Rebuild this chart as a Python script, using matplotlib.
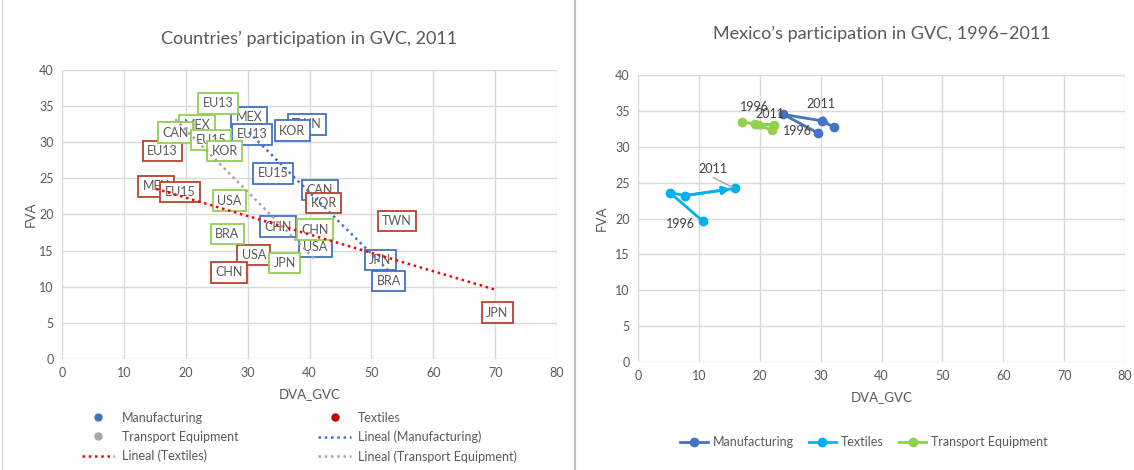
import matplotlib.pyplot as plt
from matplotlib.lines import Line2D
import numpy as np

plt.rcParams['font.family'] = ['Lato', 'DejaVu Sans']

# --- left chart: countries, 2011 ---
man_lab = ['MEX', 'EU13', 'TWN', 'KOR', 'EU15', 'CAN', 'CHN', 'USA', 'JPN', 'BRA']
man_x = [30.2, 30.7, 39.6, 37.2, 34.1, 41.7, 34.9, 40.9, 51.4, 52.8]
man_y = [33.5, 31.1, 32.5, 31.6, 25.7, 23.4, 18.3, 15.5, 13.7, 10.8]

tex_lab = ['EU13', 'MEX', 'EU15', 'KOR', 'TWN', 'USA', 'CHN', 'JPN']
tex_x = [16.2, 15.2, 19.1, 42.3, 54.1, 31.0, 27.0, 70.3]
tex_y = [28.8, 23.9, 23.1, 21.6, 19.1, 14.4, 12.0, 6.4]

tra_lab = ['EU13', 'MEX', 'CAN', 'EU15', 'KOR', 'USA', 'BRA', 'CHN', 'JPN']
tra_x = [25.2, 21.8, 18.3, 24.1, 26.3, 27.0, 26.7, 40.9, 36.0]
tra_y = [35.4, 32.4, 31.3, 30.3, 28.8, 21.9, 17.3, 17.9, 13.3]

# --- right chart: Mexico 1996-2011 ---
mx_man_x = [29.6, 23.9, 30.3, 32.2]
mx_man_y = [31.9, 34.5, 33.6, 32.7]
mx_tex_x = [10.7, 5.25, 7.8, 15.9]
mx_tex_y = [19.6, 23.6, 23.2, 24.2]
mx_tra_x = [17.1, 22.3, 19.3, 22.0]
mx_tra_y = [33.4, 33.0, 33.2, 32.3]

txt = '#595959'
grid = '#D9D9D9'

fig = plt.figure(figsize=(11.34, 4.70), dpi=100)


def style(ax, ylabpad):
    ax.set_xlim(0, 80)
    ax.set_ylim(0, 40)
    ax.set_xticks(range(0, 81, 10))
    ax.set_yticks(range(0, 41, 5))
    ax.grid(True, color=grid, lw=1)
    ax.set_axisbelow(True)
    for s in ax.spines.values():
        s.set_visible(False)
    ax.tick_params(length=0, colors=txt, labelsize=9, pad=6)
    ax.set_xlabel('DVA_GVC', color=txt, fontsize=9.5, labelpad=6)
    ax.set_ylabel('FVA', color=txt, fontsize=9.5, labelpad=ylabpad)


ax1 = fig.add_axes([0.0547, 0.2362, 0.4365, 0.6149])
style(ax1, 2)
ax1.set_title('Countries\u2019 participation in GVC, 2011', color=txt, fontsize=13, pad=19)

groups = [
    (man_lab, man_x, man_y, '#4472C4', '#4472C4', '#4472C4', 'Manufacturing'),
    (tex_lab, tex_x, tex_y, '#C00000', '#B8432F', '#FF0000', 'Textiles'),
    (tra_lab, tra_x, tra_y, '#A5A5A5', '#92D050', '#A5A5A5', 'Transport Equipment'),
]
for lab, xs, ys, mc, bc, lc, name in groups:
    ax1.scatter(xs, ys, s=25, color=mc, zorder=2)
    for l, x, y in zip(lab, xs, ys):
        ax1.text(x, y, l, ha='center', va='center', fontsize=9, color=txt, zorder=3,
                 bbox=dict(boxstyle='square,pad=0.35', fc='white', ec=bc, lw=1.3))

for lab, xs, ys, mc, bc, lc, name in groups:
    k, b = np.polyfit(xs, ys, 1)
    xx = np.array([min(xs), max(xs)])
    ax1.plot(xx, k * xx + b, ls=(0, (1, 1.5)), color=lc, lw=1.8, zorder=4)

h = [
    Line2D([], [], ls='', marker='o', color='#4472C4', ms=5),
    Line2D([], [], ls='', marker='o', color='#A5A5A5', ms=5),
    Line2D([], [], ls=(0, (1, 1.5)), color='#FF0000', lw=1.8),
    Line2D([], [], ls='', marker='o', color='#C00000', ms=5),
    Line2D([], [], ls=(0, (1, 1.5)), color='#4472C4', lw=1.8),
    Line2D([], [], ls=(0, (1, 1.5)), color='#A5A5A5', lw=1.8),
]
labs = ['Manufacturing', 'Transport Equipment', 'Lineal (Textiles)',
        'Textiles', 'Lineal (Manufacturing)', 'Lineal (Transport Equipment)']
fig.legend(h, labs, ncol=2, loc='center', bbox_to_anchor=(0.264, 0.07), frameon=False,
           fontsize=9, labelcolor=txt, columnspacing=6.4, handlelength=2.6,
           labelspacing=0.55, handletextpad=0.6)

# right chart
ax2 = fig.add_axes([0.5626, 0.2298, 0.4295, 0.6106])
style(ax2, 5)
ax2.set_title('Mexico\u2019s participation in GVC, 1996\u20132011', color=txt, fontsize=13, pad=26)

series = [
    (mx_man_x, mx_man_y, '#4472C4', 'Manufacturing'),
    (mx_tex_x, mx_tex_y, '#00B0F0', 'Textiles'),
    (mx_tra_x, mx_tra_y, '#92D050', 'Transport Equipment'),
]
for xs, ys, c, name in series:
    ax2.plot(xs, ys, color=c, lw=2, marker='o', ms=6, zorder=3)
    ax2.annotate('', xy=(xs[-1], ys[-1]), xytext=(xs[-2], ys[-2]),
                 arrowprops=dict(arrowstyle='-|>', color=c, lw=2, mutation_scale=12,
                                 shrinkA=0, shrinkB=3), zorder=3)

lab_kw = dict(fontsize=9, color='#404040', ha='center', va='center', zorder=5)
ax2.text(mx_man_x[0] - 3.4, mx_man_y[0] + 0.3, '1996', **lab_kw)
ax2.text(mx_man_x[2] - 0.2, mx_man_y[2] + 2.4, '2011', **lab_kw)
ax2.text(mx_tex_x[0] - 3.8, mx_tex_y[0] - 0.3, '1996', **lab_kw)
ax2.text(mx_tex_x[-1] - 3.6, mx_tex_y[-1] + 2.7, '2011', **lab_kw)
ax2.plot([mx_tex_x[-1] - 3.5, mx_tex_x[-1] - 0.3], [mx_tex_y[-1] + 1.5, mx_tex_y[-1] + 0.1],
         color='#A5A5A5', lw=1, zorder=5)
ax2.text(mx_tra_x[0] + 2.0, mx_tra_y[0] + 2.1, '1996', **lab_kw)
ax2.text(mx_tra_x[-1] - 0.3, mx_tra_y[-1] + 2.3, '2011', **lab_kw)

h2 = [Line2D([], [], color=c, lw=2, marker='o', ms=6) for _, _, c, _ in series]
fig.legend(h2, [s[3] for s in series], ncol=3, loc='center', bbox_to_anchor=(0.762, 0.059),
           frameon=False, fontsize=9, labelcolor=txt, handlelength=2.2, columnspacing=1.2,
           handletextpad=0.4)

# panel separator
fig.add_artist(Line2D([0.507, 0.507], [0, 1], color='#BFBFBF', lw=1.5))
fig.add_artist(Line2D([0.002, 0.002], [0, 1], color='#D9D9D9', lw=1))

fig.savefig('out.png', dpi=100)
